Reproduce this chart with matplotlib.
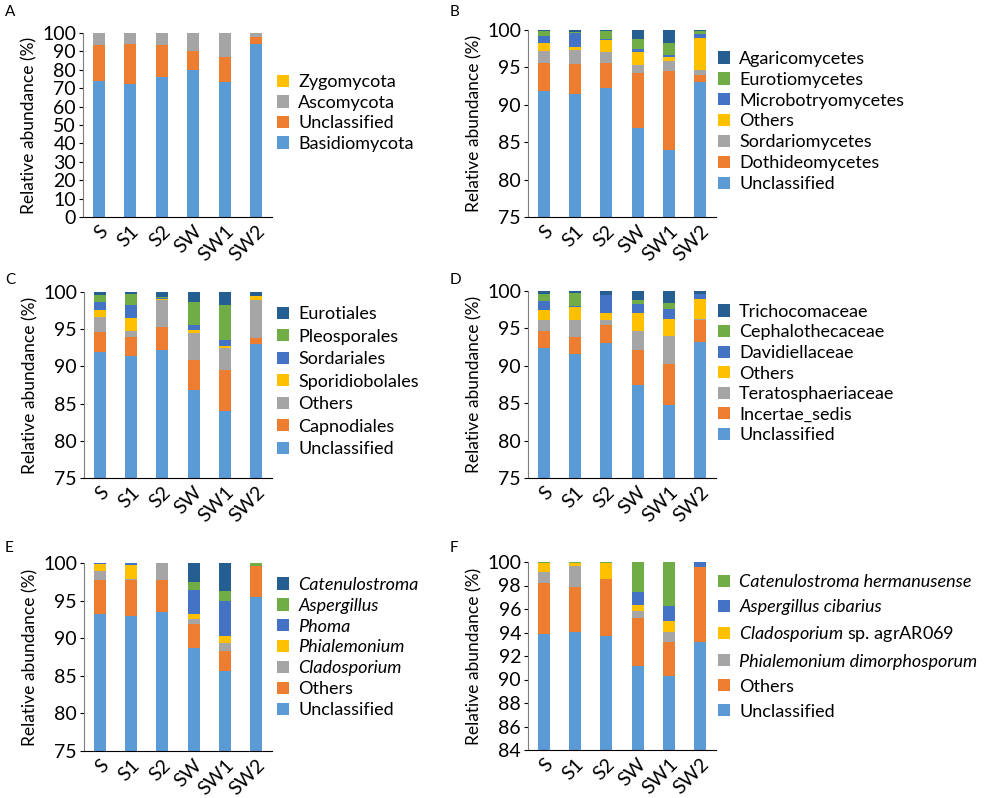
import matplotlib
matplotlib.use("Agg")
import matplotlib.pyplot as plt
import numpy as np

plt.rcParams['font.family'] = ['Lato', 'DejaVu Sans']
plt.rcParams['mathtext.fontset'] = 'custom'
plt.rcParams['mathtext.rm'] = 'Lato'
plt.rcParams['mathtext.it'] = 'Lato:italic'

samples = ["S", "S1", "S2", "SW", "SW1", "SW2"]

LBLUE = "#5B9BD5"
ORANGE = "#ED7D31"
GRAY = "#A5A5A5"
YELLOW = "#FFC000"
BLUE = "#4472C4"
GREEN = "#70AD47"
DBLUE = "#255E91"

# A - phylum (bottom to top)
a_labels = ["Basidiomycota", "Unclassified", "Ascomycota", "Zygomycota"]
a_basidio = [74.0, 72.4, 76.0, 80.0, 73.6, 94.0]
a_unclass = [19.6, 21.6, 17.3, 10.0, 13.1, 3.6]
a_asco = [6.2, 5.9, 6.5, 9.8, 13.2, 2.2]
a_zygo = [0.2, 0.1, 0.2, 0.2, 0.1, 0.2]

# B - class
b_labels = ["Unclassified", "Dothideomycetes", "Sordariomycetes", "Others",
            "Microbotryomycetes", "Eurotiomycetes", "Agaricomycetes"]
b_unclass = [91.9, 91.5, 92.3, 86.9, 84.0, 93.1]
b_dothi = [3.65, 4.0, 3.3, 7.4, 10.5, 0.9]
b_sordario = [1.6, 1.8, 1.4, 1.0, 1.3, 0.6]
b_others = [1.05, 0.4, 1.7, 1.8, 0.55, 4.3]
b_microbo = [1.0, 1.85, 0.1, 0.3, 0.35, 0.5]
b_euro = [0.6, 0.15, 1.05, 1.4, 1.6, 0.45]
b_agari = [0.2, 0.3, 0.15, 1.2, 1.7, 0.15]

# C - order
c_labels = ["Unclassified", "Capnodiales", "Others", "Sporidiobolales",
            "Sordariales", "Pleosporales", "Eurotiales"]
c_unclass = [91.9, 91.45, 92.25, 86.8, 83.95, 93.05]
c_capno = [2.7, 2.5, 3.0, 4.1, 5.6, 0.75]
c_others = [2.1, 0.75, 3.65, 3.55, 2.95, 5.1]
c_sporidio = [0.9, 1.75, 0.15, 0.4, 0.3, 0.5]
c_sordari = [1.0, 1.75, 0.1, 0.65, 0.8, 0.05]
c_pleo = [0.95, 1.5, 0.15, 3.15, 4.7, 0.05]
c_euro = [0.45, 0.3, 0.7, 1.35, 1.7, 0.5]

# D - family
d_labels = ["Unclassified", "Incertae_sedis", "Teratosphaeriaceae", "Others",
            "Davidiellaceae", "Cephalothecaceae", "Trichocomaceae"]
d_unclass = [92.35, 91.55, 93.1, 87.4, 84.7, 93.15]
d_incertae = [2.35, 2.35, 2.4, 4.7, 5.55, 2.95]
d_terato = [1.4, 2.2, 0.6, 2.55, 3.75, 0.1]
d_others = [1.3, 1.7, 1.0, 2.45, 2.3, 2.75]
d_david = [1.3, 0.2, 2.3, 1.1, 1.25, 0.6]
d_cephalo = [0.85, 1.75, 0.05, 0.55, 0.9, 0.05]
d_tricho = [0.45, 0.25, 0.55, 1.25, 1.55, 0.4]

# E - genus
e_labels = ["Unclassified", "Others", "Cladosporium", "Phialemonium",
            "Phoma", "Aspergillus", "Catenulostroma"]
e_unclass = [93.2, 92.9, 93.5, 88.67, 85.65, 95.5]
e_others = [4.5, 4.8, 4.2, 3.2, 2.65, 4.05]
e_clado = [1.28, 0.2, 2.3, 0.73, 1.1, 0.0]
e_phiale = [0.89, 1.88, 0.0, 0.6, 0.87, 0.0]
e_phoma = [0.13, 0.22, 0.0, 3.15, 4.63, 0.0]
e_asper = [0.0, 0.0, 0.0, 1.1, 1.4, 0.45]
e_caten = [0.0, 0.0, 0.0, 2.55, 3.7, 0.0]

# F - species
f_labels = ["Unclassified", "Others", "Phialemonium dimorphosporum",
            "Cladosporium sp. agrAR069", "Aspergillus cibarius",
            "Catenulostroma hermanusense"]
f_unclass = [93.86, 94.03, 93.66, 91.16, 90.26, 93.2]
f_others = [4.32, 3.87, 4.86, 4.07, 2.92, 6.35]
f_phiale = [0.94, 1.79, 0.0, 0.57, 0.85, 0.0]
f_clado = [0.77, 0.2, 1.39, 0.56, 0.97, 0.0]
f_asper = [0.0, 0.05, 0.0, 1.08, 1.28, 0.45]
f_caten = [0.11, 0.06, 0.09, 2.56, 3.72, 0.0]

W, H = 1000, 798
fig = plt.figure(figsize=(W / 100, H / 100), dpi=100)


def px_axes(left, top, right, bottom):
    return fig.add_axes([left / W, 1 - bottom / H, (right - left) / W, (bottom - top) / H])


def panel(box, series, labels, colors, ylim, yticks, leg_xy, spacing, letter, letter_xy,
          italic=(), math_labels=None):
    ax = px_axes(*box)
    x = np.arange(len(samples))
    bottom = np.zeros(len(samples))
    handles = []
    for vals, col in zip(series, colors):
        vals = np.array(vals)
        h = ax.bar(x, vals, 0.38, bottom=bottom, color=col, linewidth=0)
        handles.append(h)
        bottom += vals
    ax.set_xlim(-0.5, len(samples) - 0.5)
    ax.set_ylim(*ylim)
    ax.set_yticks(yticks)
    ax.set_xticks(x)
    ax.set_xticklabels(samples, rotation=45, ha='right', rotation_mode='anchor')
    ax.tick_params(axis='x', length=0, labelsize=14, pad=4)
    ax.tick_params(axis='y', length=3, width=0.8, labelsize=14, pad=2)
    for s in ['top', 'right']:
        ax.spines[s].set_visible(False)
    ax.spines['left'].set_color('#7f7f7f')
    ax.spines['bottom'].set_color('black')
    ax.set_ylabel("Relative abundance (%)", fontsize=12.5, labelpad=3)
    labs = list(labels)
    if math_labels:
        for k, v in math_labels.items():
            labs[k] = v
    leg = ax.legend(handles[::-1], labs[::-1], loc='center left', frameon=False,
                    bbox_to_anchor=(leg_xy[0] / W, 1 - leg_xy[1] / H),
                    bbox_transform=fig.transFigure, borderpad=0, borderaxespad=0,
                    fontsize=13, handlelength=0.67, handleheight=0.67,
                    handletextpad=0.5, labelspacing=spacing)
    for t in leg.get_texts():
        if t.get_text() in italic:
            t.set_fontstyle('italic')
    fig.text(letter_xy[0] / W, 1 - letter_xy[1] / H, letter, fontsize=11,
             ha='left', va='center')
    return ax


panel((83, 33, 272, 217), [a_basidio, a_unclass, a_asco, a_zygo], a_labels,
      [LBLUE, ORANGE, GRAY, YELLOW], (0, 100), range(0, 101, 10),
      (277, 113), 0.25, "A", (5, 12))

panel((528, 30, 716, 217),
      [b_unclass, b_dothi, b_sordario, b_others, b_microbo, b_euro, b_agari], b_labels,
      [LBLUE, ORANGE, GRAY, YELLOW, BLUE, GREEN, DBLUE], (75, 100), range(75, 101, 5),
      (718, 121.5), 0.27, "B", (450, 12))

panel((84, 292, 272, 478),
      [c_unclass, c_capno, c_others, c_sporidio, c_sordari, c_pleo, c_euro], c_labels,
      [LBLUE, ORANGE, GRAY, YELLOW, BLUE, GREEN, DBLUE], (75, 100), range(75, 101, 5),
      (277, 381.5), 0.36, "C", (5, 280))

panel((528, 291, 716, 478),
      [d_unclass, d_incertae, d_terato, d_others, d_david, d_cephalo, d_tricho], d_labels,
      [LBLUE, ORANGE, GRAY, YELLOW, BLUE, GREEN, DBLUE], (75, 100), range(75, 101, 5),
      (718, 373.5), 0.25, "D", (450, 280))

panel((84, 563, 272, 751),
      [e_unclass, e_others, e_clado, e_phiale, e_phoma, e_asper, e_caten], e_labels,
      [LBLUE, ORANGE, GRAY, YELLOW, BLUE, GREEN, DBLUE], (75, 100), range(75, 101, 5),
      (277, 647.5), 0.27, "E", (5, 548),
      italic=("Cladosporium", "Phialemonium", "Phoma", "Aspergillus", "Catenulostroma"))

panel((528, 562, 716, 750),
      [f_unclass, f_others, f_phiale, f_clado, f_asper, f_caten], f_labels,
      [LBLUE, ORANGE, GRAY, YELLOW, BLUE, GREEN], (84, 100), range(84, 101, 2),
      (718, 647), 0.5, "F", (450, 548),
      italic=("Phialemonium dimorphosporum", "Aspergillus cibarius",
              "Catenulostroma hermanusense"),
      math_labels={3: r"$\it{Cladosporium}$ sp. agrAR069"})

fig.savefig("out.png", dpi=100)
